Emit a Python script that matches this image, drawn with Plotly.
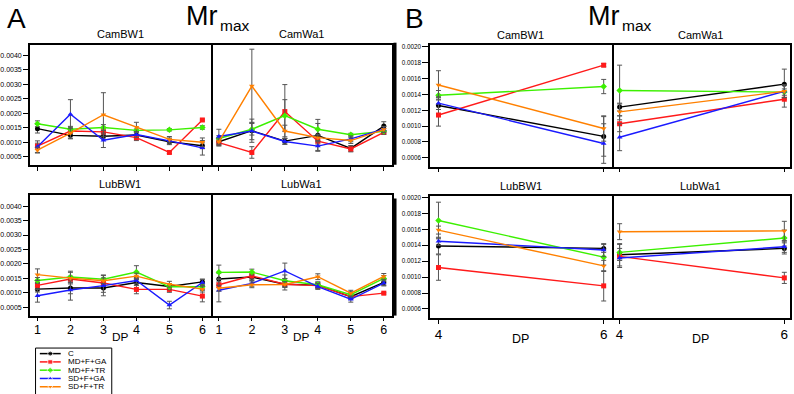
import plotly.graph_objects as go

W, H = 794, 394

SERIES = ["C", "MD+F+GA", "MD+F+TR", "SD+F+GA", "SD+F+TR"]
COLORS = ["#000000", "#ff1a1a", "#3cf000", "#1a1aff", "#ff8000"]
SYMBOLS = ["circle", "square", "diamond", "triangle-up", "triangle-down"]

DP_A = [1, 2, 3, 4, 5, 6]
DP_B = [4, 6]

YTICKS_A = [0.0005, 0.0010, 0.0015, 0.0020, 0.0025, 0.0030, 0.0035, 0.0040]
YTICKS_B = [0.0006, 0.0008, 0.0010, 0.0012, 0.0014, 0.0016, 0.0018, 0.0020]

# ---- Panel A (rows: C, MD+F+GA, MD+F+TR, SD+F+GA, SD+F+TR) ----
A_CamBW1_mean = [
    [0.00147, 0.00124, 0.00121, 0.00125, 0.00102, 0.00088],
    [0.00087, 0.00139, 0.00136, 0.00116, 0.00065, 0.00177],
    [0.00164, 0.00145, 0.00151, 0.00141, 0.00143, 0.00151],
    [0.00085, 0.00197, 0.00107, 0.00127, 0.00105, 0.00081],
    [0.00073, 0.00132, 0.00195, 0.00152, 0.00110, 0.00100],
]
A_CamBW1_err = [
    [0.00015, 0.00010, 0.00010, 0.00010, 0.00010, 0.00010],
    [0.00010, 0.00010, 0.00010, 0.00010, 0.00004, 0.00003],
    [0.00010, 0.00010, 0.00010, 0.00005, 0.00004, 0.00006],
    [0.00020, 0.00050, 0.00025, 0.00010, 0.00010, 0.00025],
    [0.00010, 0.00020, 0.00076, 0.00017, 0.00010, 0.00015],
]
A_CamWa1_mean = [
    [0.00102, 0.00140, 0.00104, 0.00124, 0.00079, 0.00156],
    [0.00099, 0.00065, 0.00206, 0.00104, 0.00077, 0.00134],
    [0.00113, 0.00145, 0.00192, 0.00145, 0.00126, 0.00138],
    [0.00120, 0.00139, 0.00103, 0.00087, 0.00112, 0.00145],
    [0.00102, 0.00294, 0.00139, 0.00116, 0.00106, 0.00144],
]
A_CamWa1_err = [
    [0.00015, 0.00040, 0.00010, 0.00055, 0.00010, 0.00015],
    [0.00010, 0.00020, 0.00093, 0.00010, 0.00010, 0.00005],
    [0.00010, 0.00020, 0.00055, 0.00020, 0.00005, 0.00010],
    [0.00025, 0.00030, 0.00010, 0.00015, 0.00010, 0.00010],
    [0.00010, 0.00127, 0.00020, 0.00010, 0.00010, 0.00010],
]
A_LubBW1_mean = [
    [0.00113, 0.00117, 0.00117, 0.00136, 0.00122, 0.00138],
    [0.00126, 0.00148, 0.00134, 0.00112, 0.00112, 0.00089],
    [0.00143, 0.00155, 0.00147, 0.00172, 0.00121, 0.00121],
    [0.00090, 0.00110, 0.00125, 0.00143, 0.00058, 0.00136],
    [0.00163, 0.00151, 0.00142, 0.00158, 0.00130, 0.00113],
]
A_LubBW1_err = [
    [0.00010, 0.00020, 0.00015, 0.00010, 0.00010, 0.00010],
    [0.00010, 0.00010, 0.00010, 0.00015, 0.00010, 0.00020],
    [0.00010, 0.00020, 0.00015, 0.00022, 0.00010, 0.00010],
    [0.00022, 0.00035, 0.00035, 0.00010, 0.00013, 0.00010],
    [0.00020, 0.00020, 0.00010, 0.00010, 0.00010, 0.00010],
]
A_LubWa1_mean = [
    [0.00148, 0.00155, 0.00130, 0.00127, 0.00087, 0.00136],
    [0.00128, 0.00159, 0.00130, 0.00125, 0.00087, 0.00099],
    [0.00171, 0.00172, 0.00142, 0.00128, 0.00094, 0.00150],
    [0.00109, 0.00133, 0.00176, 0.00122, 0.00078, 0.00134],
    [0.00116, 0.00128, 0.00129, 0.00156, 0.00099, 0.00157],
]
A_LubWa1_err = [
    [0.00020, 0.00010, 0.00020, 0.00010, 0.00010, 0.00010],
    [0.00010, 0.00010, 0.00010, 0.00010, 0.00005, 0.00003],
    [0.00025, 0.00010, 0.00020, 0.00010, 0.00010, 0.00010],
    [0.00040, 0.00010, 0.00027, 0.00010, 0.00010, 0.00010],
    [0.00010, 0.00010, 0.00010, 0.00010, 0.00010, 0.00010],
]

# ---- Panel B ----
B_CamBW1_mean = [
    [0.00126, 0.00087],
    [0.00114, 0.00177],
    [0.00139, 0.00150],
    [0.00129, 0.00078],
    [0.00152, 0.00097],
]
B_CamBW1_err = [
    [0.00010, 0.00025],
    [0.00014, 0.00002],
    [0.00006, 0.00009],
    [0.00008, 0.00025],
    [0.00018, 0.00016],
]
B_CamWa1_mean = [
    [0.00124, 0.00153],
    [0.00103, 0.00134],
    [0.00145, 0.00143],
    [0.00086, 0.00144],
    [0.00118, 0.00144],
]
B_CamWa1_err = [
    [0.00005, 0.00019],
    [0.00010, 0.00010],
    [0.00032, 0.00004],
    [0.00017, 0.00008],
    [0.00010, 0.00008],
]
B_LubBW1_mean = [
    [0.00139, 0.00136],
    [0.00112, 0.00089],
    [0.00171, 0.00125],
    [0.00145, 0.00134],
    [0.00159, 0.00114],
]
B_LubBW1_err = [
    [0.00010, 0.00005],
    [0.00016, 0.00019],
    [0.00023, 0.00010],
    [0.00005, 0.00008],
    [0.00005, 0.00007],
]
B_LubWa1_mean = [
    [0.00128, 0.00136],
    [0.00126, 0.00099],
    [0.00131, 0.00149],
    [0.00124, 0.00138],
    [0.00157, 0.00158],
]
B_LubWa1_err = [
    [0.00014, 0.00007],
    [0.00005, 0.00007],
    [0.00010, 0.00010],
    [0.00012, 0.00007],
    [0.00010, 0.00012],
]

FONT = "Liberation Sans, Arial, sans-serif"


def fx(px):
    return px / W


def fy(py):
    return 1 - py / H


# panel layout: (name, dp, means, errs, x px span, y px span, xrange, yrange, yticks, left, bottom)
PANELS = [
    ("CamBW1", DP_A, A_CamBW1_mean, A_CamBW1_err, (26, 208), (42, 163), (0.77, 6.26), (0.000226, 0.004366), YTICKS_A, True, False),
    ("CamWa1", DP_A, A_CamWa1_mean, A_CamWa1_err, (208, 390), (42, 163), (0.76, 6.25), (0.000226, 0.004366), YTICKS_A, False, False),
    ("LubBW1", DP_A, A_LubBW1_mean, A_LubBW1_err, (26, 208), (193.3, 315), (0.77, 6.26), (0.000215, 0.00439), YTICKS_A, True, True),
    ("LubWa1", DP_A, A_LubWa1_mean, A_LubWa1_err, (208, 390), (193.3, 315), (0.76, 6.25), (0.000215, 0.00439), YTICKS_A, False, True),
    ("CamBW1", DP_B, B_CamBW1_mean, B_CamBW1_err, (428.3, 610.7), (42.7, 165), (3.899, 6.096), (0.000487, 0.00202), YTICKS_B, True, False),
    ("CamWa1", DP_B, B_CamWa1_mean, B_CamWa1_err, (610.7, 790), (42.7, 165), (3.903, 6.069), (0.000487, 0.00202), YTICKS_B, False, False),
    ("LubBW1", DP_B, B_LubBW1_mean, B_LubBW1_err, (428.3, 610.7), (194.7, 317.3), (3.899, 6.096), (0.000488, 0.002015), YTICKS_B, True, True),
    ("LubWa1", DP_B, B_LubWa1_mean, B_LubWa1_err, (610.7, 790), (194.7, 317.3), (3.903, 6.069), (0.000488, 0.002015), YTICKS_B, False, True),
]

fig = go.Figure()
layout = {}
annotations = []
shapes = []

for i, (name, dp, means, errs, xs, ys, xr, yr, yt, left, bottom) in enumerate(PANELS):
    n = i + 1
    xa = "x" if n == 1 else f"x{n}"
    ya = "y" if n == 1 else f"y{n}"
    isB = i >= 4
    for s in range(len(SERIES)):
        fig.add_trace(go.Scatter(
            x=dp, y=means[s], xaxis=xa, yaxis=ya, mode="lines+markers",
            name=SERIES[s], showlegend=False,
            line=dict(color=COLORS[s], width=1.4),
            marker=dict(symbol=SYMBOLS[s], size=5, color=COLORS[s]),
            error_y=dict(type="data", array=errs[s], visible=True,
                         color="#555555", thickness=1, width=2.5),
            cliponaxis=False,
        ))
    layout["xaxis" if n == 1 else f"xaxis{n}"] = dict(
        domain=[fx(xs[0]), fx(xs[1])], range=list(xr), anchor=ya,
        tickvals=dp, ticktext=[str(v) for v in dp],
        ticks="outside", ticklen=4, tickwidth=1, tickcolor="#000",
        showticklabels=bottom,
        tickfont=dict(size=13.5 if isB else 12.5, color="#000", family=FONT),
        ticklabelstandoff=-2 if not isB else -1,
        showline=True, linecolor="#000", linewidth=1.5, mirror=True,
        showgrid=False, zeroline=False, fixedrange=True,
    )
    layout["yaxis" if n == 1 else f"yaxis{n}"] = dict(
        domain=[fy(ys[1]), fy(ys[0])], range=list(yr), anchor=xa,
        side="left" if left else "right",
        tickvals=yt, ticktext=[f"{v:.4f}" for v in yt],
        ticks="outside" if left else "", ticklen=5 if not isB else 6,
        tickwidth=1, tickcolor="#000",
        showticklabels=left,
        tickfont=dict(size=6.3 if isB else 7, color="#000", family=FONT),
        showline=True, linecolor="#000", linewidth=1.5, mirror=left,
        showgrid=False, zeroline=False, fixedrange=True,
    )
    # subplot title
    cx = (xs[0] + xs[1]) / 2
    ty = ys[0] - 10.5
    annotations.append(dict(text=name, x=fx(cx), y=fy(ty), xref="paper", yref="paper",
                            xanchor="center", yanchor="middle", showarrow=False,
                            font=dict(size=11, color="#000", family=FONT)))
    if bottom:
        annotations.append(dict(text="DP", x=fx(cx), y=fy(ys[1] + (21.3 if not isB else 21.3)),
                                xref="paper", yref="paper", xanchor="center", yanchor="middle",
                                showarrow=False,
                                font=dict(size=12.5 if isB else 11.8, color="#000", family=FONT)))

# panel letters and titles
for letter, lx, mrx, maxx in [("A", 1, 180.5, 215), ("B", 401, 584.5, 619.5)]:
    annotations.append(dict(text=letter, x=fx(lx), y=fy(15.2), xref="paper", yref="paper",
                            xanchor="left", yanchor="middle", showarrow=False,
                            font=dict(size=28, color="#000", family=FONT)))
    annotations.append(dict(text="Mr", x=fx(mrx), y=fy(13), xref="paper", yref="paper",
                            xanchor="left", yanchor="middle", showarrow=False,
                            font=dict(size=27, color="#000", family=FONT)))
    annotations.append(dict(text="max", x=fx(maxx), y=fy(23), xref="paper", yref="paper",
                            xanchor="left", yanchor="middle", showarrow=False,
                            font=dict(size=15.5, color="#000", family=FONT)))

# cut-off axis title bars at the left of panel B
shapes.append(dict(type="line", xref="paper", yref="paper", x0=fx(393), x1=fx(393),
                   y0=fy(163), y1=fy(40), line=dict(color="#000", width=3)))
shapes.append(dict(type="line", xref="paper", yref="paper", x0=fx(393), x1=fx(393),
                   y0=fy(315), y1=fy(197), line=dict(color="#000", width=3)))

# manual legend on a pixel-space helper axis (transparent background)
layout["xaxis9"] = dict(domain=[0, 1], range=[0, W], visible=False, fixedrange=True, anchor="y9")
layout["yaxis9"] = dict(domain=[0, 1], range=[H, 0], visible=False, fixedrange=True, anchor="x9")
shapes.append(dict(type="rect", xref="paper", yref="paper", x0=fx(31.7), x1=fx(108.3),
                   y0=fy(400), y1=fy(347.7),
                   line=dict(color="#000", width=1), fillcolor="rgba(0,0,0,0)"))
for s in range(len(SERIES)):
    yy = 353.3 + s * 8.35
    fig.add_trace(go.Scatter(
        x=[36, 46.5, 57], y=[yy, yy, yy], xaxis="x9", yaxis="y9", mode="lines+markers",
        showlegend=False, hoverinfo="skip",
        line=dict(color=COLORS[s], width=1.5),
        marker=dict(symbol=SYMBOLS[s], size=[0, 5, 0], color=COLORS[s]),
        cliponaxis=False,
    ))
    annotations.append(dict(text=SERIES[s], x=fx(62.5), y=fy(yy), xref="paper", yref="paper",
                            xanchor="left", yanchor="middle", showarrow=False,
                            font=dict(size=8, color="#000", family=FONT)))

fig.update_layout(
    width=W, height=H, margin=dict(l=0, r=0, t=0, b=0),
    paper_bgcolor="white", plot_bgcolor="rgba(0,0,0,0)",
    showlegend=False, annotations=annotations, shapes=shapes,
    font=dict(family=FONT, color="#000"),
    **layout,
)

fig.write_html("out.html", config={"displayModeBar": False})
